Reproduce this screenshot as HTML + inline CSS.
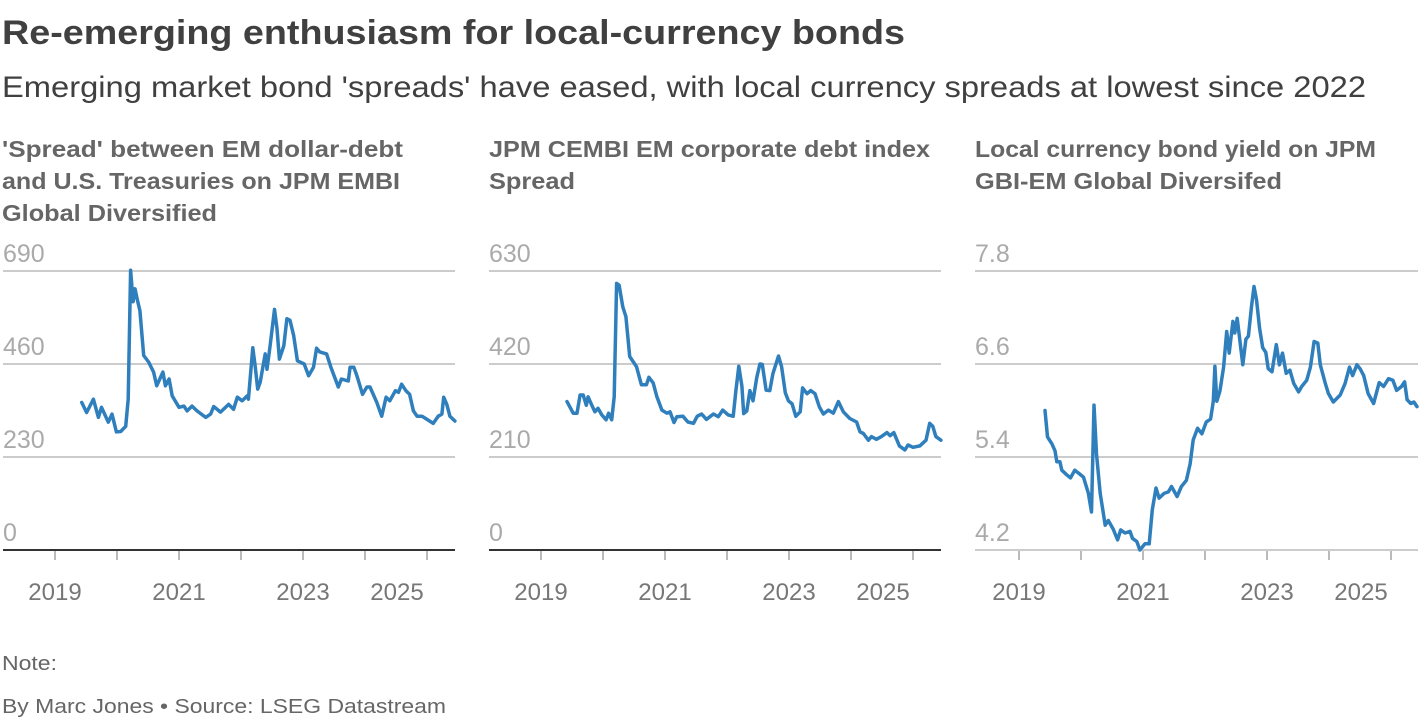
<!DOCTYPE html>
<html><head><meta charset="utf-8">
<style>
html,body{margin:0;padding:0;background:#fff;}
svg{display:block;font-family:"Liberation Sans",sans-serif;}
</style></head>
<body>
<svg id="chart" width="1420" height="720" viewBox="0 0 1420 720" xmlns="http://www.w3.org/2000/svg">
<text x="2" y="44" font-size="34" font-weight="bold" fill="#404040" textLength="903" lengthAdjust="spacingAndGlyphs">Re-emerging enthusiasm for local-currency bonds</text>
<text x="2" y="97" font-size="30" fill="#404040" textLength="1364" lengthAdjust="spacingAndGlyphs">Emerging market bond 'spreads' have eased, with local currency spreads at lowest since 2022</text>
<g font-size="23" font-weight="bold" fill="#666">
<text x="2" y="157" textLength="401" lengthAdjust="spacingAndGlyphs">'Spread' between EM dollar-debt</text>
<text x="2" y="189" textLength="398" lengthAdjust="spacingAndGlyphs">and U.S. Treasuries on JPM EMBI</text>
<text x="2" y="221" textLength="215" lengthAdjust="spacingAndGlyphs">Global Diversified</text>
</g>
<g font-size="23" font-weight="bold" fill="#666">
<text x="489" y="157" textLength="441" lengthAdjust="spacingAndGlyphs">JPM CEMBI EM corporate debt index</text>
<text x="489" y="189" textLength="86" lengthAdjust="spacingAndGlyphs">Spread</text>
</g>
<g font-size="23" font-weight="bold" fill="#666">
<text x="975" y="157" textLength="401" lengthAdjust="spacingAndGlyphs">Local currency bond yield on JPM</text>
<text x="975" y="189" textLength="307" lengthAdjust="spacingAndGlyphs">GBI-EM Global Diversifed</text>
</g>
<g id="p1"></g>
<g id="p2"></g>
<g id="p3"></g>
<text x="2" y="670" font-size="20" fill="#666" textLength="55" lengthAdjust="spacingAndGlyphs">Note:</text>
<text x="2" y="713" font-size="20" fill="#666" textLength="444" lengthAdjust="spacingAndGlyphs">By Marc Jones • Source: LSEG Datastream</text>
</svg>
<script>
// ---- data ----
const xTickLabels = ['2019','2021','2023','2025'];
const xTickYears = [2019,2020,2021,2022,2023,2024,2025];
const embiTicks = [0,230,460,690];
const cembiTicks = [0,210,420,630];
const gbiTicks = [4.2,5.4,6.6,7.8];
const embiDates = [2019.43,2019.51,2019.62,2019.70,2019.75,2019.86,2019.92,2019.99,2020.06,2020.14,2020.18,2020.22,2020.26,2020.29,2020.33,2020.37,2020.43,2020.51,2020.59,2020.64,2020.74,2020.78,2020.84,2020.89,2021.00,2021.08,2021.13,2021.21,2021.29,2021.43,2021.51,2021.56,2021.67,2021.80,2021.88,2021.94,2022.02,2022.10,2022.12,2022.19,2022.23,2022.27,2022.31,2022.39,2022.42,2022.47,2022.54,2022.58,2022.62,2022.69,2022.74,2022.79,2022.85,2022.91,2023.02,2023.09,2023.17,2023.22,2023.27,2023.38,2023.45,2023.57,2023.62,2023.73,2023.76,2023.82,2023.87,2023.96,2024.03,2024.08,2024.19,2024.27,2024.34,2024.40,2024.49,2024.54,2024.59,2024.66,2024.72,2024.78,2024.84,2024.92,2025.00,2025.10,2025.18,2025.24,2025.27,2025.32,2025.37,2025.45];
const embiValues = [365,340,373,328,353,316,336,292,293,306,373,692,614,646,617,592,481,465,440,406,440,406,423,381,353,356,344,356,344,328,336,355,341,360,348,378,369,381,373,500,452,398,415,485,447,505,595,547,472,505,572,568,530,468,460,431,452,499,490,485,452,403,423,418,452,452,431,385,403,403,365,331,378,369,394,390,410,394,385,344,331,331,323,313,331,336,378,360,331,319];
const cembiDates = [2019.42,2019.52,2019.58,2019.63,2019.68,2019.73,2019.76,2019.82,2019.87,2019.92,2019.98,2020.05,2020.09,2020.14,2020.18,2020.22,2020.26,2020.32,2020.37,2020.43,2020.54,2020.62,2020.70,2020.74,2020.81,2020.87,2020.95,2021.03,2021.08,2021.145,2021.19,2021.29,2021.37,2021.46,2021.52,2021.59,2021.67,2021.78,2021.86,2021.93,2022.02,2022.10,2022.144,2022.19,2022.24,2022.27,2022.32,2022.37,2022.42,2022.48,2022.53,2022.57,2022.63,2022.69,2022.74,2022.83,2022.88,2022.94,2022.99,2023.05,2023.11,2023.18,2023.22,2023.29,2023.35,2023.42,2023.49,2023.555,2023.635,2023.715,2023.796,2023.876,2023.98,2024.09,2024.145,2024.20,2024.28,2024.33,2024.41,2024.49,2024.58,2024.63,2024.69,2024.78,2024.87,2024.92,2025.00,2025.11,2025.21,2025.27,2025.32,2025.37,2025.45];
const cembiValues = [335,309,309,350,350,327,346,327,312,320,305,294,309,294,346,602,598,549,527,437,414,373,373,390,377,346,316,309,312,288,301,302,289,286,302,307,295,307,301,316,305,302,360,415,370,308,314,360,337,390,420,419,361,360,398,438,414,355,337,330,302,312,366,353,360,353,323,307,316,309,335,312,297,289,267,263,248,256,250,256,265,258,265,235,226,237,232,235,248,286,279,256,248];
const gbiDates = [2019.42,2019.46,2019.53,2019.58,2019.61,2019.66,2019.69,2019.77,2019.83,2019.90,2019.98,2020.04,2020.12,2020.17,2020.21,2020.25,2020.31,2020.39,2020.44,2020.52,2020.59,2020.64,2020.71,2020.79,2020.83,2020.90,2020.95,2021.03,2021.10,2021.15,2021.21,2021.26,2021.34,2021.41,2021.46,2021.55,2021.62,2021.70,2021.76,2021.81,2021.88,2021.95,2022.02,2022.09,2022.134,2022.16,2022.19,2022.24,2022.30,2022.35,2022.39,2022.45,2022.48,2022.52,2022.61,2022.66,2022.70,2022.75,2022.79,2022.83,2022.88,2022.93,2022.98,2023.02,2023.08,2023.15,2023.20,2023.25,2023.31,2023.37,2023.43,2023.51,2023.56,2023.64,2023.70,2023.76,2023.82,2023.86,2023.94,2023.99,2024.07,2024.18,2024.26,2024.33,2024.38,2024.45,2024.50,2024.56,2024.63,2024.72,2024.81,2024.88,2024.96,2025.03,2025.09,2025.17,2025.22,2025.26,2025.32,2025.37,2025.42];
const gbiValues = [6.00,5.66,5.57,5.48,5.34,5.34,5.23,5.17,5.13,5.23,5.18,5.14,4.93,4.69,6.07,5.44,4.93,4.52,4.58,4.47,4.33,4.46,4.42,4.44,4.35,4.31,4.20,4.28,4.28,4.72,5.00,4.87,4.93,4.95,5.02,4.89,5.02,5.10,5.31,5.62,5.77,5.70,5.85,5.89,6.12,6.57,6.12,6.25,6.56,7.02,6.74,7.15,7.00,7.19,6.59,6.92,6.96,7.34,7.60,7.43,7.06,6.81,6.75,6.54,6.50,6.85,6.59,6.74,6.48,6.52,6.35,6.24,6.31,6.39,6.56,6.89,6.87,6.59,6.35,6.22,6.11,6.20,6.35,6.56,6.45,6.59,6.54,6.45,6.22,6.09,6.36,6.31,6.41,6.39,6.26,6.31,6.37,6.14,6.09,6.11,6.05];

const NS='http://www.w3.org/2000/svg';
function mk(tag, attrs, parent){const e=document.createElementNS(NS,tag);for(const k in attrs)e.setAttribute(k,attrs[k]);parent.appendChild(e);return e;}

function drawPanel(g, left, right, tick2019, yTicks, dates, values, baseBlack, labelX, labelShift){
  const yTop=271, yBot=550, pxPerYear=62;
  const ymin=yTicks[0], ymax=yTicks[yTicks.length-1];
  const xs=d=>tick2019+(d-2019)*pxPerYear;
  const ys=v=>yBot-(v-ymin)/(ymax-ymin)*(yBot-yTop);
  yTicks.forEach((t,i)=>{
    const y=ys(t);
    if(i===0 && baseBlack) return;
    const gl=mk('line',{x1:left,x2:right,y1:y,y2:y,stroke:'#cccccc','stroke-width':2},g);
    
    
  });
  yTicks.forEach(t=>{
    const tx=mk('text',{x:labelX,y:ys(t)-9,'font-size':25,fill:'#aaaaaa'},g);
    
    
    tx.textContent=String(t);
  });
  xTickYears.forEach(yr=>{
    const tk=mk('line',{x1:xs(yr),x2:xs(yr),y1:yBot+1,y2:yBot+10,stroke:'#bbbbbb','stroke-width':2},g);
    
    
  });
  if(baseBlack){
    const b=mk('line',{x1:left,x2:right,y1:yBot,y2:yBot,stroke:'#333333','stroke-width':2},g);
    
    
  }
  xTickLabels.forEach((lab,i)=>{
    let cx=xs(+lab);
    if(i===xTickLabels.length-1) cx-=labelShift;
    const t=mk('text',{x:cx,y:600,'font-size':24,fill:'#777777','text-anchor':'middle'},g);
    
    
    t.textContent=lab;
  });
  const d=dates.map((dt,i)=>(i?'L':'M')+xs(dt).toFixed(1)+' '+ys(values[i]).toFixed(1)).join(' ');
  const p=mk('path',{d:d,fill:'none',stroke:'#2f7fbd','stroke-width':3.5,'stroke-linejoin':'round','stroke-linecap':'round'},g);
  
  
}
drawPanel(document.getElementById('p1'),3,455,55,embiTicks,embiDates,embiValues,true,3,30);
drawPanel(document.getElementById('p2'),489,941,541,cembiTicks,cembiDates,cembiValues,true,489,30);
drawPanel(document.getElementById('p3'),975,1418,1019,gbiTicks,gbiDates,gbiValues,false,975,30);
</script>
</body></html>
